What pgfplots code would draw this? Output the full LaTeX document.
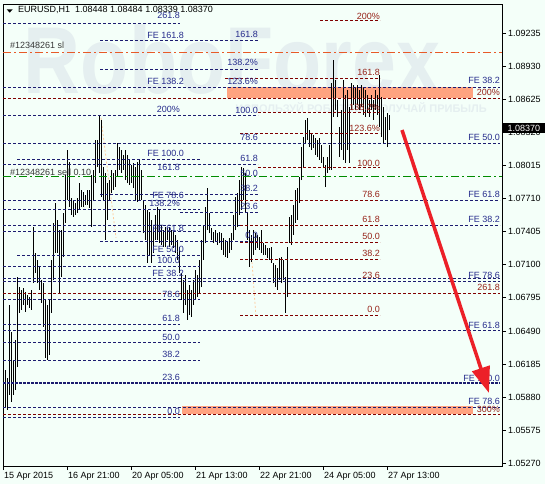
\documentclass[border=0pt]{standalone}
\usepackage{fontspec}
\setmainfont{Liberation Sans}
\usepackage{graphicx}
\usepackage{pgfplots}
\pgfplotsset{compat=1.18}
\usepackage{pgfplotstable}
\usetikzlibrary{arrows.meta}
\definecolor{bgc}{RGB}{244,255,249}
\definecolor{navyl}{RGB}{28,28,112}
\definecolor{navyt}{RGB}{38,44,140}
\definecolor{maroonl}{RGB}{128,0,0}
\definecolor{redt}{RGB}{150,35,25}
\definecolor{salmonc}{RGB}{255,163,128}
\definecolor{wm}{RGB}{229,239,240}
\definecolor{slc}{RGB}{232,90,40}
\definecolor{greenl}{RGB}{0,140,0}
\definecolor{peach}{RGB}{255,205,160}
\definecolor{arrowred}{RGB}{236,32,40}
\newcommand{\fs}{\fontsize{9bp}{10bp}\selectfont}
\pgfplotstableread{
i lo hi
1 1.05789 1.06131
2 1.05762 1.06057
3 1.05900 1.06730
4 1.05836 1.06481
5 1.05900 1.06223
6 1.05946 1.06407
7 1.06158 1.06988
8 1.06656 1.06895
9 1.06684 1.06868
10 1.06730 1.06886
11 1.06666 1.06850
12 1.06730 1.06822
13 1.06702 1.06803
14 1.06684 1.06868
15 1.06932 1.07449
16 1.07025 1.07209
17 1.06932 1.07145
18 1.06868 1.07080
19 1.06748 1.06960
20 1.06527 1.06932
21 1.06241 1.06776
22 1.06223 1.06730
23 1.06269 1.06776
24 1.06656 1.07145
25 1.06960 1.07486
26 1.07209 1.07670
27 1.07209 1.07514
28 1.06840 1.07421
29 1.06988 1.07421
30 1.07172 1.07578
31 1.07486 1.07929
32 1.07698 1.08159
33 1.07633 1.08049
34 1.07560 1.07716
35 1.07541 1.07698
36 1.07560 1.07670
37 1.07578 1.07716
38 1.07606 1.07854
39 1.07633 1.07790
40 1.07633 1.07772
41 1.07652 1.07744
42 1.07652 1.07790
43 1.07624 1.07790
44 1.07449 1.07929
45 1.07698 1.07975
46 1.07854 1.08251
47 1.08002 1.08251
48 1.07947 1.08482
49 1.07725 1.08436
50 1.07698 1.08002
51 1.07329 1.07947
52 1.07514 1.07854
53 1.07698 1.07882
54 1.07762 1.07975
55 1.07790 1.07947
56 1.07817 1.07975
57 1.07910 1.08223
58 1.07975 1.08186
59 1.07947 1.08159
60 1.07975 1.08113
61 1.07882 1.08159
62 1.07854 1.08113
63 1.07836 1.08067
64 1.07854 1.08021
65 1.07808 1.08039
66 1.07698 1.08002
67 1.07680 1.08049
68 1.07698 1.08067
69 1.07698 1.07975
70 1.07393 1.07698
71 1.07329 1.07652
72 1.07117 1.07606
73 1.07191 1.07588
74 1.07117 1.07514
75 1.07209 1.07449
76 1.07329 1.07560
77 1.07329 1.07633
78 1.07301 1.07606
79 1.07283 1.07468
80 1.07264 1.07421
81 1.07264 1.07449
82 1.07329 1.07440
83 1.07264 1.07449
84 1.07283 1.07421
85 1.07255 1.07403
86 1.07209 1.07375
87 1.07145 1.07329
88 1.07025 1.07264
89 1.06776 1.07025
90 1.06656 1.06960
91 1.06730 1.07007
92 1.06592 1.06868
93 1.06638 1.06914
94 1.06620 1.06868
95 1.06730 1.06960
96 1.06776 1.07053
97 1.06803 1.07007
98 1.06840 1.07145
99 1.06895 1.07329
100 1.07145 1.07468
101 1.07301 1.07633
102 1.07421 1.07808
103 1.07393 1.07578
104 1.07329 1.07440
105 1.07301 1.07403
106 1.07311 1.07421
107 1.07283 1.07393
108 1.07301 1.07403
109 1.07237 1.07393
110 1.07191 1.07347
111 1.07172 1.07329
112 1.07163 1.07311
113 1.07209 1.07347
114 1.07237 1.07393
115 1.07329 1.07560
116 1.07421 1.07725
117 1.07449 1.07762
118 1.07560 1.07882
119 1.07606 1.08002
120 1.07698 1.07993
121 1.07578 1.07947
122 1.07329 1.07578
123 1.07080 1.07421
124 1.07126 1.07375
125 1.07191 1.07421
126 1.07237 1.07393
127 1.07255 1.07375
128 1.07237 1.07356
129 1.07209 1.07421
130 1.07191 1.07301
131 1.07191 1.07283
132 1.07163 1.07255
133 1.07145 1.07255
134 1.07117 1.07264
135 1.06932 1.07117
136 1.06895 1.07099
137 1.06868 1.07071
138 1.06960 1.07163
139 1.06932 1.07172
140 1.06960 1.07145
141 1.06656 1.06988
142 1.06803 1.07264
143 1.07301 1.07541
144 1.07283 1.07560
145 1.07375 1.07652
146 1.07486 1.07790
147 1.07514 1.07808
148 1.07670 1.07910
149 1.07882 1.08186
150 1.08002 1.08279
151 1.08223 1.08436
152 1.08251 1.08454
153 1.08186 1.08343
154 1.08159 1.08316
155 1.08177 1.08297
156 1.08113 1.08269
157 1.08094 1.08251
158 1.08067 1.08269
159 1.08039 1.08205
160 1.07993 1.08094
161 1.07817 1.08021
162 1.07947 1.08094
163 1.07975 1.08205
164 1.07975 1.08776
165 1.08464 1.08989
166 1.08528 1.08804
167 1.08464 1.08620
168 1.08094 1.08371
169 1.08159 1.08528
170 1.08067 1.08804
171 1.08039 1.08666
172 1.08159 1.08712
173 1.08039 1.08555
174 1.08528 1.08776
175 1.08574 1.08758
176 1.08528 1.08730
177 1.08574 1.08758
178 1.08528 1.08712
179 1.08555 1.08758
180 1.08482 1.08740
181 1.08464 1.08712
182 1.08500 1.08666
183 1.08464 1.08620
184 1.08528 1.08666
185 1.08436 1.08620
186 1.08528 1.08712
187 1.08482 1.08666
188 1.08371 1.08850
189 1.08279 1.08648
190 1.08223 1.08555
191 1.08251 1.08464
192 1.08186 1.08500
193 1.08339 1.08484
}\bars
\tikzset{
  nv/.style={navyl, dash pattern=on 3bp off 2bp, line width=0.8bp},
  rd/.style={maroonl, dash pattern=on 3bp off 2bp, line width=0.8bp},
  lblN/.style={anchor=east, inner sep=0pt, text=navyt, font=\fs},
  lblR/.style={anchor=east, inner sep=0pt, text=redt, font=\fs},
}
\newcommand{\ns}[3]{\addplot[nv] coordinates {(#1,#3)(#2,#3)};}
\newcommand{\rs}[3]{\addplot[rd] coordinates {(#1,#3)(#2,#3)};}
\newcommand{\nl}[3]{\node[lblN] at (axis cs:#1,#2) {#3};}
\newcommand{\rl}[3]{\node[lblR] at (axis cs:#1,#2) {#3};}
\begin{document}
\begin{tikzpicture}[x=1bp,y=1bp]
\fill[bgc] (0,0) rectangle (545,484);
\begin{axis}[
  at={(3bp,18bp)}, anchor=south west,
  scale only axis, width=499bp, height=462bp,
  xmin=0, xmax=249.5, ymin=1.05245, ymax=1.09505,
  axis line style={black, line width=0.8bp},
  tick align=outside, major tick length=4bp,
  tick style={black, line width=0.8bp},
  xtick pos=bottom, ytick pos=right, yticklabel pos=right,
  xtick={0,32,64,96,128,160,192},
  xticklabels={15 Apr 2015,16 Apr 21:00,20 Apr 05:00,21 Apr 13:00,22 Apr 21:00,24 Apr 05:00,27 Apr 13:00},
  ytick={1.05270,1.05575,1.05880,1.06185,1.06490,1.06795,1.07100,1.07405,1.07710,1.08015,1.08320,1.08625,1.08930,1.09235},
  yticklabels={1.05270,1.05575,1.05880,1.06185,1.06490,1.06795,1.07100,1.07405,1.07710,1.08015,1.08320,1.08625,1.08930,1.09235},
  scaled y ticks=false, scaled x ticks=false,
  /pgf/number format/assume math mode=true,
  ticklabel style={font=\fs, inner sep=0pt},
  xticklabel style={anchor=north west, xshift=1bp, yshift=-2bp},
  yticklabel style={anchor=west, xshift=2bp},
  axis background/.style={fill=bgc},
  clip=true,
]
% watermark
\node[text=wm, font=\fontsize{95bp}{95bp}\selectfont\bfseries, inner sep=0pt] at (axis cs:114.5,1.08989) {\scalebox{0.83}[1]{RoboForex}};
\node[text=wm, font=\fontsize{11bp}{12bp}\selectfont\bfseries, anchor=east, inner sep=0pt] at (axis cs:242,1.08546) {ИСПОЛЬЗУЙ РОБОТОВ - ПОЛУЧАЙ ПРИБЫЛЬ};
% salmon bands
\addplot[fill=salmonc, draw=none] coordinates {(112,1.08638)(235,1.08638)(235,1.08740)(112,1.08740)} --cycle;
\addplot[fill=salmonc, draw=none] coordinates {(89.5,1.05725)(235,1.05725)(235,1.05799)(89.5,1.05799)} --cycle;
% faint trend lines
\addplot[peach, dash pattern=on 2bp off 2bp, line width=0.8bp] coordinates {(49,1.08454)(56.5,1.07348)};
\addplot[peach, dash pattern=on 2bp off 2bp, line width=0.8bp] coordinates {(124.5,1.07126)(126.5,1.06610)};
% bars (high-low)
\addplot[black, line width=1bp, mark=none, forget plot,
  quiver={u=0, v=\thisrow{hi}-\thisrow{lo}}]
  table[x=i, y=lo] {\bars};
% navy lines
\ns{0}{88.5}{1.09330}
\ns{48.5}{127.5}{1.09173}
\ns{48.5}{127.5}{1.08906}
\ns{0}{248.5}{1.08740}
\ns{0}{127.5}{1.08482}
\ns{0}{248.5}{1.08223}
\ns{7}{98.5}{1.08076}
\ns{0}{127.5}{1.08030}
\ns{48.5}{127.5}{1.07753}
\ns{0}{118.5}{1.07698}
\ns{188.5}{248.5}{1.07698}
\ns{0}{98.5}{1.07615}
\ns{88.5}{127.5}{1.07587}
\ns{0}{118.5}{1.07468}
\ns{188.5}{248.5}{1.07468}
\ns{0}{98.5}{1.07412}
\ns{48.5}{127.5}{1.07320}
\ns{7}{98.5}{1.07191}
\ns{0}{98.5}{1.07089}
\ns{0}{248.5}{1.06979}
\ns{0}{248.5}{1.06951}
\ns{0}{98.5}{1.06785}
\ns{0}{88.5}{1.06555}
\ns{0}{248.5}{1.06499}
\ns{0}{98.5}{1.06389}
\ns{0}{98.5}{1.06223}
\addplot[navyl, dash pattern=on 2.5bp off 1.5bp, line width=1.6bp] coordinates {(0,1.06011)(248.5,1.06011)};
\ns{0}{248.5}{1.05789}
\ns{0}{88.5}{1.05697}
% red lines
\rs{158.5}{188.5}{1.09358}
\rs{111}{188.5}{1.08823}
\rs{0}{248.5}{1.08638}
\rs{127.5}{188.5}{1.08509}
\rs{118.5}{188.5}{1.08316}
\rs{127.5}{188.5}{1.08002}
\rs{118.5}{188.5}{1.07698}
\rs{118.5}{188.5}{1.07468}
\rs{118.5}{188.5}{1.07311}
\rs{118.5}{188.5}{1.07154}
\rs{0}{248.5}{1.06840}
\rs{118.5}{188.5}{1.06638}
\rs{0}{248.5}{1.05725}
% order lines
\addplot[slc, dash pattern=on 8bp off 3bp on 2bp off 3bp, line width=0.8bp] coordinates {(0,1.09063)(249.5,1.09063)};
\addplot[greenl, dash pattern=on 8bp off 3bp on 2bp off 3bp, line width=0.8bp] coordinates {(0,1.07919)(249.5,1.07919)};
\node[anchor=west, inner sep=0pt, text=black!78, font=\fs] at (axis cs:3.5,1.09127) {\#12348261 sl};
\node[anchor=west, inner sep=0pt, text=black!78, font=\fs] at (axis cs:3.5,1.07956) {\#12348261 sell 0.10};
% navy labels
\nl{88.5}{1.09404}{261.8}
\nl{90.5}{1.09219}{FE 161.8}
\nl{127.5}{1.09229}{161.8}
\nl{127.5}{1.08970}{138.2\%}
\nl{90.5}{1.08795}{FE 138.2}
\nl{127.5}{1.08795}{123.6\%}
\nl{248.5}{1.08804}{FE 38.2}
\nl{88.5}{1.08537}{200\%}
\nl{127.5}{1.08528}{100.0}
\nl{127.5}{1.08279}{78.6}
\nl{248.5}{1.08279}{FE 50.0}
\nl{90.5}{1.08131}{FE 100.0}
\nl{127.5}{1.08085}{61.8}
\nl{88.5}{1.08002}{161.8}
\nl{127.5}{1.07947}{50.0}
\nl{127.5}{1.07808}{38.2}
\nl{90.5}{1.07744}{FE 78.6}
\nl{88.5}{1.07670}{138.2\%}
\nl{127.5}{1.07643}{23.6}
\nl{90.5}{1.07440}{FE 61.8}
\nl{127.5}{1.07375}{0.0}
\nl{90.5}{1.07246}{FE 50.0}
\nl{88.5}{1.07145}{100.0}
\nl{90.5}{1.07025}{FE 38.2}
\nl{88.5}{1.06831}{78.6}
\nl{88.5}{1.06610}{61.8}
\nl{88.5}{1.06435}{50.0}
\nl{88.5}{1.06278}{38.2}
\nl{88.5}{1.06066}{23.6}
\nl{88.5}{1.05753}{0.0}
\nl{248.5}{1.07753}{FE 61.8}
\nl{248.5}{1.07523}{FE 38.2}
\nl{248.5}{1.07007}{FE 78.6}
\nl{248.5}{1.06545}{FE 61.8}
\nl{248.5}{1.06057}{FE 100.0}
\nl{248.5}{1.05845}{FE 78.6}
% red labels
\rl{188.5}{1.09395}{200\%}
\rl{188.5}{1.08878}{161.8}
\rl{248.5}{1.08694}{200\%}
\rl{188.5}{1.08555}{138.2\%}
\rl{188.5}{1.08362}{123.6\%}
\rl{188.5}{1.08039}{100.0}
\rl{188.5}{1.07753}{78.6}
\rl{188.5}{1.07523}{61.8}
\rl{188.5}{1.07366}{50.0}
\rl{188.5}{1.07209}{38.2}
\rl{188.5}{1.07007}{23.6}
\rl{248.5}{1.06896}{261.8}
\rl{188.5}{1.06693}{0.0}
\rl{248.5}{1.05771}{300\%}
% arrow
\draw[arrowred, line width=3.5bp, -{Triangle[length=26bp,width=18bp]}] (axis cs:199.5,1.08343) -- (axis cs:243,1.05918);
\end{axis}
\fill[black] (6.7,474.7) -- (12.7,474.7) -- (9.7,471.3) -- cycle;
\node[anchor=west, inner sep=0pt, font=\fs] at (18,474) {EURUSD,H1\ \ 1.08448 1.08484 1.08339 1.08370};
\fill[black] (503,351) rectangle (545,361);
\node[anchor=west, inner sep=0pt, text=white, font=\fs] at (507.5,356) {1.08370};
\pgfresetboundingbox
\path[use as bounding box] (0,0) rectangle (545,484);
\end{tikzpicture}
\end{document}
